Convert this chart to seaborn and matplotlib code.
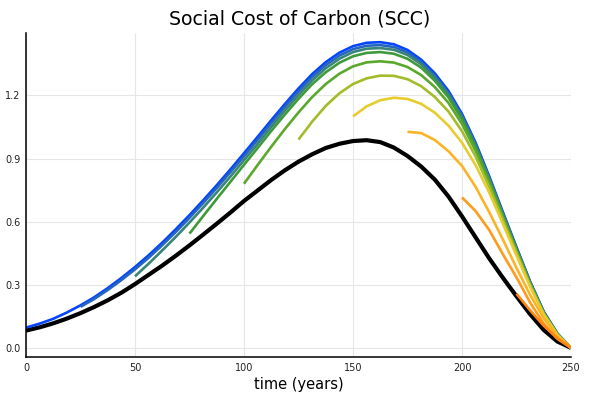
import numpy as np
import pandas as pd
import matplotlib
matplotlib.use("Agg")
import matplotlib.pyplot as plt
import seaborn as sns

# ---- data ----
years = [0, 6.25, 12.5, 18.75, 25, 31.25, 37.5, 43.75, 50, 56.25, 62.5, 68.75, 75, 81.25,
         87.5, 93.75, 100, 106.25, 112.5, 118.75, 125, 131.25, 137.5, 143.75, 150, 156.25,
         162.5, 168.75, 175, 181.25, 187.5, 193.75, 200, 206.25, 212.5, 218.75, 225, 231.25,
         237.5, 243.75, 250]

start_years = [0, 25, 50, 75, 100, 125, 150, 175, 200, 225]

scc_from_0 = [0.096, 0.115, 0.138, 0.168, 0.202, 0.240, 0.284, 0.332, 0.384, 0.440, 0.500,
              0.564, 0.631, 0.701, 0.773, 0.848, 0.925, 1.003, 1.082, 1.159, 1.233, 1.301,
              1.358, 1.403, 1.434, 1.450, 1.453, 1.443, 1.416, 1.370, 1.305, 1.222, 1.112,
              0.975, 0.815, 0.645, 0.478, 0.315, 0.172, 0.068, 0.0]
scc_from_25 = [0.195, 0.232, 0.275, 0.322, 0.373, 0.428, 0.488, 0.551, 0.618, 0.688, 0.760,
               0.835, 0.911, 0.989, 1.068, 1.145, 1.219, 1.287, 1.344, 1.389, 1.420, 1.436,
               1.439, 1.430, 1.404, 1.359, 1.295, 1.213, 1.104, 0.968, 0.809, 0.640, 0.474,
               0.312, 0.170, 0.067, 0.0]
scc_from_50 = [0.340, 0.400, 0.463, 0.528, 0.596, 0.666, 0.739, 0.814, 0.892, 0.970, 1.050,
               1.128, 1.202, 1.271, 1.329, 1.374, 1.406, 1.422, 1.425, 1.417, 1.392, 1.348,
               1.285, 1.204, 1.096, 0.961, 0.803, 0.635, 0.470, 0.309, 0.168, 0.066, 0.0]
scc_from_75 = [0.543, 0.626, 0.708, 0.789, 0.870, 0.950, 1.031, 1.109, 1.184, 1.253, 1.310,
               1.355, 1.386, 1.402, 1.406, 1.398, 1.374, 1.332, 1.270, 1.191, 1.085, 0.952,
               0.796, 0.629, 0.466, 0.306, 0.166, 0.065, 0.0]
scc_from_100 = [0.780, 0.869, 0.956, 1.040, 1.119, 1.192, 1.254, 1.303, 1.338, 1.357, 1.362,
                1.356, 1.335, 1.297, 1.240, 1.165, 1.064, 0.936, 0.785, 0.622, 0.461, 0.303,
                0.164, 0.064, 0.0]
scc_from_125 = [0.990, 1.075, 1.150, 1.210, 1.254, 1.281, 1.294, 1.293, 1.277, 1.244, 1.193,
                1.124, 1.030, 0.909, 0.765, 0.608, 0.452, 0.298, 0.162, 0.063, 0.0]
scc_from_150 = [1.100, 1.148, 1.177, 1.189, 1.183, 1.160, 1.118, 1.057, 0.975, 0.868, 0.738,
                0.590, 0.438, 0.290, 0.158, 0.061, 0.0]
scc_from_175 = [1.027, 1.021, 0.988, 0.935, 0.865, 0.765, 0.645, 0.515, 0.380, 0.252, 0.140,
                0.055, 0.0]
scc_from_200 = [0.715, 0.650, 0.560, 0.445, 0.335, 0.215, 0.115, 0.043, 0.0]
scc_from_225 = [0.257, 0.178, 0.105, 0.045, 0.0]

scc_black = [0.082, 0.0975, 0.1165, 0.139, 0.165, 0.194, 0.226, 0.262, 0.303, 0.347, 0.391,
             0.438, 0.487, 0.538, 0.590, 0.643, 0.698, 0.748, 0.798, 0.844, 0.885, 0.920,
             0.950, 0.970, 0.983, 0.987, 0.978, 0.952, 0.912, 0.862, 0.800, 0.720, 0.625,
             0.525, 0.425, 0.333, 0.245, 0.160, 0.085, 0.030, 0.0]

curve_colors = ['#0645ff', '#2466bd', '#3a8478', '#3f9a3c', '#5aa82c',
                '#a2bc2a', '#e6cc2e', '#fbb427', '#fd9c1c', '#ff850e']

x_ticks = [0, 50, 100, 150, 200, 250]
y_ticks = [0.0, 0.3, 0.6, 0.9, 1.2]
y_tick_labels = ['0.0', '0.3', '0.6', '0.9', '1.2']

series = [scc_from_0, scc_from_25, scc_from_50, scc_from_75, scc_from_100,
          scc_from_125, scc_from_150, scc_from_175, scc_from_200, scc_from_225]

# ---- build long-form table ----
rows = []
for s, vals in zip(start_years, series):
    i0 = years.index(s)
    for t, v in zip(years[i0:], vals):
        rows.append((t, v, f"start {s}"))
df = pd.DataFrame(rows, columns=["t", "scc", "start"])
hue_order = [f"start {s}" for s in start_years]

# ---- style ----
sns.set_style("white")
plt.rcParams['font.family'] = ['DejaVu Sans']
plt.rcParams['lines.solid_joinstyle'] = 'round'
plt.rcParams['lines.solid_capstyle'] = 'butt'

W, H = 602, 398
fig = plt.figure(figsize=(W / 100, H / 100), dpi=100)
ax = fig.add_axes([26 / W, 1 - 357 / H, (571 - 26) / W, (357 - 33) / H])

sns.lineplot(x=years, y=scc_black, color='black', lw=3.0, ax=ax, estimator=None)
sns.lineplot(data=df, x="t", y="scc", hue="start", hue_order=hue_order,
             palette=curve_colors, lw=1.9, legend=False, ax=ax,
             estimator=None, sort=False)

ax.set_xlim(0, 250)
ax.set_ylim(-0.0436, 1.4966)
ax.set_xticks(x_ticks)
ax.set_xticklabels([str(v) for v in x_ticks])
ax.set_yticks(y_ticks)
ax.set_yticklabels(y_tick_labels)
ax.set_xlabel("")
ax.set_ylabel("")

ax.grid(True, color='#e6e6e6', lw=0.8)
ax.set_axisbelow(True)
for side in ['top', 'right']:
    ax.spines[side].set_visible(False)
for side in ['left', 'bottom']:
    ax.spines[side].set_color('black')
    ax.spines[side].set_linewidth(1.1)

ax.tick_params(axis='both', direction='in', length=3, width=0.8, color='black',
               labelsize=7, labelcolor='#222222')
ax.tick_params(axis='x', pad=4)
ax.tick_params(axis='y', pad=4)

fig.text(300 / W, 1 - 19 / H, "Social Cost of Carbon (SCC)", ha='center', va='center',
         fontsize=13.6, color='black')
fig.text(298.5 / W, 1 - 384 / H, "time (years)", ha='center', va='center',
         fontsize=10.5, color='black')

fig.savefig("out.png", dpi=100)
